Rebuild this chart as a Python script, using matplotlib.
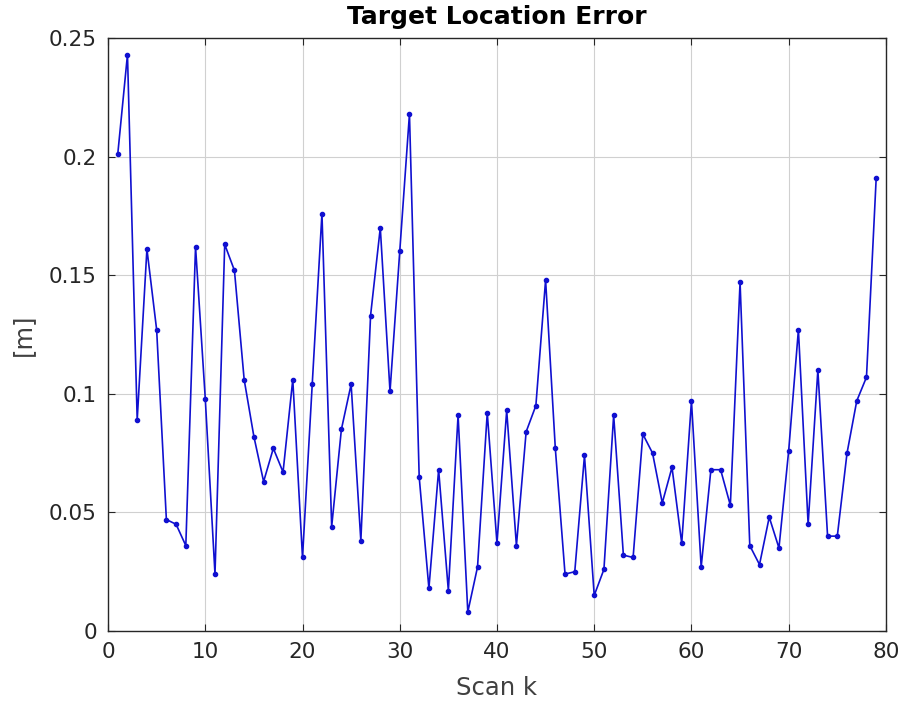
import numpy as np
import matplotlib
matplotlib.use('Agg')
import matplotlib.pyplot as plt

# location error per scan
scan = np.arange(1, 80)
err = [0.201, 0.243, 0.089, 0.161, 0.127, 0.047, 0.045, 0.036, 0.162, 0.098,
       0.024, 0.163, 0.152, 0.106, 0.082, 0.063, 0.077, 0.067, 0.106, 0.031,
       0.104, 0.176, 0.044, 0.085, 0.104, 0.038, 0.133, 0.170, 0.101, 0.160,
       0.218, 0.065, 0.018, 0.068, 0.017, 0.091, 0.008, 0.027, 0.092, 0.037,
       0.093, 0.036, 0.084, 0.095, 0.148, 0.077, 0.024, 0.025, 0.074, 0.015,
       0.026, 0.091, 0.032, 0.031, 0.083, 0.075, 0.054, 0.069, 0.037, 0.097,
       0.027, 0.068, 0.068, 0.053, 0.147, 0.036, 0.028, 0.048, 0.035, 0.076,
       0.127, 0.045, 0.110, 0.040, 0.040, 0.075, 0.097, 0.107, 0.191]

xticks = [0, 10, 20, 30, 40, 50, 60, 70, 80]
yticks = [0, 0.05, 0.1, 0.15, 0.2, 0.25]
ytick_labels = ['0', '0.05', '0.1', '0.15', '0.2', '0.25']

fig = plt.figure(figsize=(9.04, 7.02), dpi=100)
ax = fig.add_axes([0.1195, 0.1011, 0.8605, 0.8448])

ax.plot(scan, err, '.-', color='#1010d0', linewidth=1.2, markersize=6)

ax.set_xlim(0, 80)
ax.set_ylim(0, 0.25)
ax.set_xticks(xticks)
ax.set_yticks(yticks)
ax.set_yticklabels(ytick_labels)
ax.grid(True, color='#d0d0d0', linewidth=0.8)
ax.set_axisbelow(True)
ax.tick_params(direction='in', length=5, labelsize=15.5, colors='#262626',
               top=True, right=True, pad=8)
for s in ax.spines.values():
    s.set_color('#262626')
    s.set_linewidth(1.0)

ax.set_xlabel('Scan k', fontsize=17.5, color='#404040', labelpad=10)
ax.set_ylabel('[m]', fontsize=17.5, color='#404040', labelpad=10)
ax.set_title('Target Location Error', fontsize=18, fontweight='bold', pad=10)

fig.savefig('out.png', dpi=100)
